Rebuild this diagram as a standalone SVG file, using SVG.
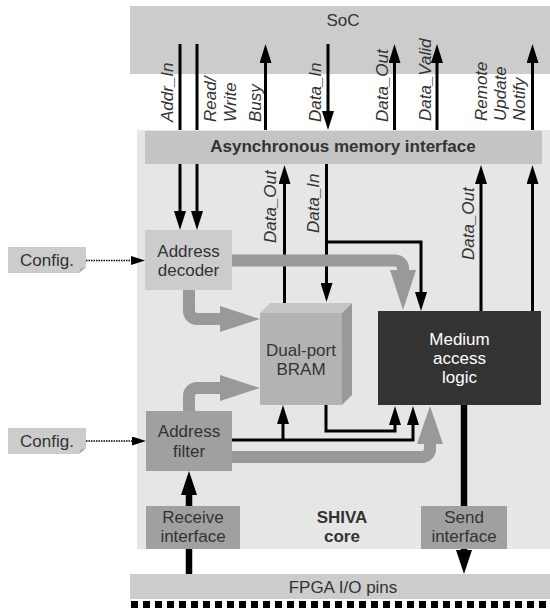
<svg xmlns="http://www.w3.org/2000/svg" width="550" height="608" viewBox="0 0 550 608">
<style>
text{font-family:"Liberation Sans",Arial,sans-serif;font-size:17px;fill:#333}
.c{text-anchor:middle}
.b{font-weight:bold}
.l{font-style:italic}
.w{fill:#fff}
.k{fill:none;stroke:#000;stroke-width:3}
.kt{fill:none;stroke:#000;stroke-width:6.5}
.g{fill:none;stroke:#999;stroke-width:12}
.gh{fill:#999}
.d{fill:none;stroke:#000;stroke-width:1.5;stroke-dasharray:1.5 1}
</style>
<defs>
<marker id="a" markerUnits="userSpaceOnUse" markerWidth="19" markerHeight="12" refX="9" refY="6" orient="auto"><path d="M0,0 L19,6 L0,12 z" fill="#000"/></marker>
<marker id="at" markerUnits="userSpaceOnUse" markerWidth="24" markerHeight="16" refX="12" refY="8" orient="auto"><path d="M0,0 L24,8 L0,16 z" fill="#000"/></marker>
<marker id="ad" markerUnits="userSpaceOnUse" markerWidth="14" markerHeight="9" refX="4" refY="4.5" orient="auto"><path d="M0,0 L14,4.5 L0,9 z" fill="#000"/></marker>
</defs>
<g id="soc"><rect x="130" y="6" width="420" height="68" fill="#ccc"/><text class="c" x="343" y="26">SoC</text></g>
<g id="core"><rect x="137" y="130" width="413" height="419" fill="#e6e6e6"/><text class="c b" x="342" y="523">SHIVA</text><text class="c b" x="342" y="542">core</text></g>
<g id="fpga"><rect x="130" y="574" width="420" height="25" fill="#ccc"/><line x1="131" y1="604.5" x2="550" y2="604.5" stroke="#000" stroke-width="7" stroke-dasharray="7 5"/><text class="c" x="343" y="593">FPGA I/O pins</text></g>
<g id="labels">
<text class="l" transform="translate(173,122) rotate(-90)">Addr_In</text>
<text class="l" transform="translate(216,122) rotate(-90)">Read/</text>
<text class="l" transform="translate(235.5,122) rotate(-90)">Write</text>
<text class="l" transform="translate(261,122) rotate(-90)">Busy</text>
<text class="l" transform="translate(321,122) rotate(-90)">Data_In</text>
<text class="l" transform="translate(388,122) rotate(-90)">Data_Out</text>
<text class="l" transform="translate(430.5,121) rotate(-90)">Data_Valid</text>
<text class="l" transform="translate(487,121) rotate(-90)">Remote</text>
<text class="l" transform="translate(506,121) rotate(-90)">Update</text>
<text class="l" transform="translate(525,121) rotate(-90)">Notify</text>
<text class="l" transform="translate(275.5,243) rotate(-90)">Data_Out</text>
<text class="l" transform="translate(319,233) rotate(-90)">Data_In</text>
<text class="l" transform="translate(474,260) rotate(-90)">Data_Out</text>
</g>
<g id="connectors">
<path class="k" d="M180,44 V130"/>
<path class="k" d="M197,44 V130"/>
<path class="k" d="M265.5,130 V54" marker-end="url(#a)"/>
<path class="k" d="M328,44 V120" marker-end="url(#a)"/>
<path class="k" d="M394.5,130 V54" marker-end="url(#a)"/>
<path class="k" d="M437,130 V54" marker-end="url(#a)"/>
<path class="k" d="M532.5,130 V54" marker-end="url(#a)"/>
<path class="k" d="M180,164 V220" marker-end="url(#a)"/>
<path class="k" d="M197,164 V220" marker-end="url(#a)"/>
<path class="k" d="M284.5,303 V175" marker-end="url(#a)"/>
<path class="k" d="M326.5,164 V292" marker-end="url(#a)"/>
<path class="k" d="M326.5,242 H421 V301" marker-end="url(#a)"/>
<path class="k" d="M481,311 V175" marker-end="url(#a)"/>
<path class="k" d="M532.5,311 V175" marker-end="url(#a)"/>
<path class="k" d="M232,440 H413 V416" marker-end="url(#a)"/>
<path class="k" d="M283,440 V415" marker-end="url(#a)"/>
<path class="k" d="M326,405 V431 H395 V416" marker-end="url(#a)"/>
<path class="kt" d="M189,574 V549"/>
<path class="kt" d="M189,506 V483" marker-end="url(#at)"/>
<path class="kt" d="M464,405 V506"/>
<path class="kt" d="M464,549 V562" marker-end="url(#at)"/>
<path class="d" d="M86,260.5 H135" marker-end="url(#ad)"/>
<path class="d" d="M86,441 H136" marker-end="url(#ad)"/>
<path class="g" d="M232,260.5 H395 A8,8 0 0 1 403,268.5 V271"/>
<polygon class="gh" points="390,270 416,270 403,310"/>
<path class="g" d="M232,457 H422 A8,8 0 0 0 430,449 V443"/>
<polygon class="gh" points="417,444 443,444 430,406"/>
<path class="g" d="M189,290 V311 A8,8 0 0 0 197,319 H221"/>
<polygon class="gh" points="220,306 220,332 260,319"/>
<path class="g" d="M189,411 V396 A8,8 0 0 1 197,388 H221"/>
<polygon class="gh" points="220,375 220,401 260,388"/>
</g>
<g id="async"><rect x="145" y="131" width="397" height="33" fill="#c4c4c4"/><text class="c b" x="343" y="152">Asynchronous memory interface</text></g>
<g id="config1"><polygon points="8,247 86,247 86,267 79,273 8,273" fill="#ccc"/><polygon points="79,273 80.5,268.5 86,267" fill="#aaa"/><text class="c" x="47" y="266">Config.</text></g>
<g id="config2"><polygon points="8,428 86,428 86,448 79,454 8,454" fill="#ccc"/><polygon points="79,454 80.5,449.5 86,448" fill="#aaa"/><text class="c" x="47" y="447">Config.</text></g>
<g id="addrdec"><rect x="145" y="230" width="87" height="60" fill="#ccc"/><text class="c" x="188.5" y="257">Address</text><text class="c" x="188.5" y="276">decoder</text></g>
<g id="addrfilt"><rect x="146" y="411" width="86" height="60" fill="#a0a0a0"/><text class="c" x="189" y="437">Address</text><text class="c" x="189" y="457">filter</text></g>
<g id="bram"><polygon points="260,313 270,303 352,303 342,313" fill="#c6c6c6"/><polygon points="342,313 352,303 352,395 342,405" fill="#999"/><rect x="260" y="313" width="82" height="92" fill="#b3b3b3"/><text class="c" x="301" y="356">Dual-port</text><text class="c" x="301" y="375">BRAM</text></g>
<g id="mal"><rect x="378" y="311" width="163" height="94" fill="#333"/><text class="c w" x="459.5" y="345">Medium</text><text class="c w" x="459.5" y="364">access</text><text class="c w" x="459.5" y="383">logic</text></g>
<g id="recv"><rect x="146" y="506" width="94" height="43" fill="#a0a0a0"/><text class="c" x="193" y="523">Receive</text><text class="c" x="193" y="542">interface</text></g>
<g id="send"><rect x="421" y="506" width="86" height="43" fill="#a0a0a0"/><text class="c" x="464" y="523">Send</text><text class="c" x="464" y="542">interface</text></g>
</svg>
